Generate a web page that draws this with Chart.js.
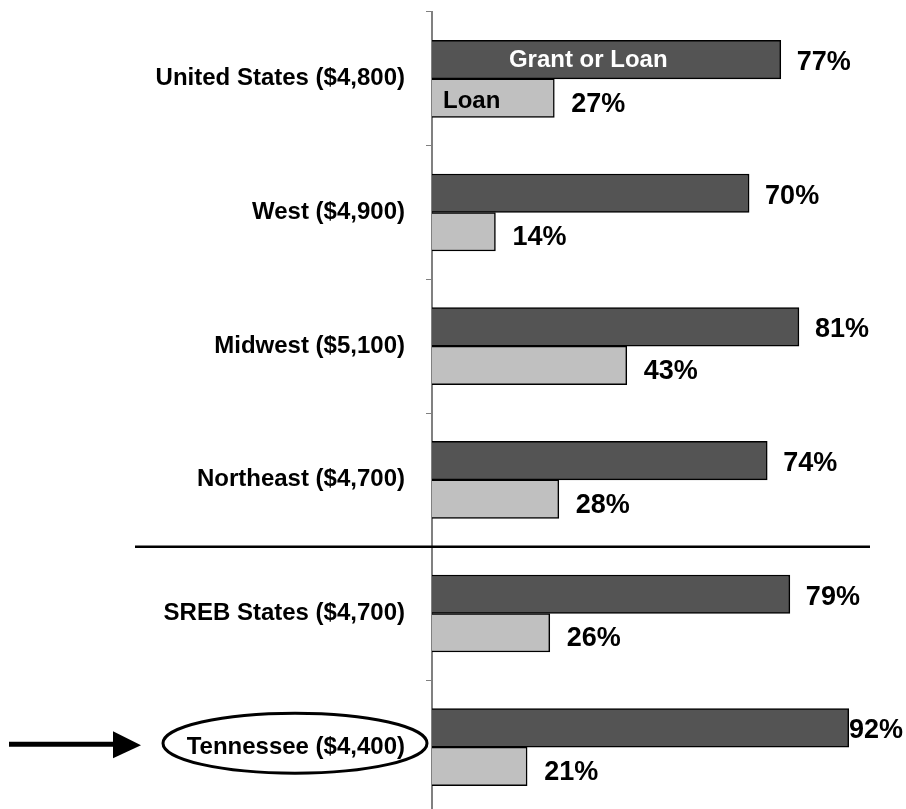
<!DOCTYPE html>
<html>
<head>
<meta charset="utf-8">
<script src="https://cdn.jsdelivr.net/npm/chart.js@4.4.1/dist/chart.umd.min.js"></script>
<style>
  html, body { margin: 0; padding: 0; background: #fff; overflow: hidden; }
  #wrap { width: 906px; height: 814px; }
</style>
</head>
<body>
<div id="wrap"><canvas id="aidChart" width="906" height="814"></canvas></div>
<script>
// Datos
const categories = ['United States ($4,800)', 'West ($4,900)', 'Midwest ($5,100)', 'Northeast ($4,700)', 'SREB States ($4,700)', 'Tennessee ($4,400)'];
const grantOrLoan = [77, 70, 81, 74, 79, 92];
const loanOnly = [27, 14, 43, 28, 26, 21];
const seriesNames = ['Grant or Loan', 'Loan'];

const FONT = "'Liberation Sans', Arial, sans-serif";
Chart.defaults.font.family = FONT;

// etiquetas de valores, nombres de serie, separador, flecha y elipse
const extrasPlugin = {
  id: 'extras',
  afterDatasetsDraw(chart) {
    const ctx = chart.ctx;
    const xs = chart.scales.x;
    const ys = chart.scales.y;
    const area = chart.chartArea;
    ctx.save();

    // valores al final de cada barra
    ctx.font = 'bold 27px ' + FONT;
    ctx.textBaseline = 'middle';
    ctx.textAlign = 'left';
    ctx.fillStyle = '#000';
    chart.data.datasets.forEach((ds, di) => {
      const meta = chart.getDatasetMeta(di);
      meta.data.forEach((bar, i) => {
        const txt = ds.data[i] + '%';
        const w = ctx.measureText(txt).width;
        let x = bar.x + (di === 0 ? 16 : 17);
        if (x + w > chart.width - 3) x = chart.width - 3 - w;
        ctx.fillText(txt, x, bar.y + (di === 0 ? 3 : 6));
      });
    });

    // nombres de serie dentro de las barras de United States
    const darkUS = chart.getDatasetMeta(0).data[0];
    const lightUS = chart.getDatasetMeta(1).data[0];
    ctx.font = 'bold 24px ' + FONT;
    ctx.fillStyle = '#fff';
    ctx.textAlign = 'center';
    ctx.fillText(seriesNames[0], xs.getPixelForValue(34.5), darkUS.y + 1);
    ctx.fillStyle = '#000';
    ctx.textAlign = 'left';
    ctx.fillText(seriesNames[1], area.left + 11, lightUS.y + 3);

    // separador entre regiones y estados SREB
    const sepY = (ys.getPixelForValue(3) + ys.getPixelForValue(4)) / 2;
    ctx.strokeStyle = '#000';
    ctx.lineWidth = 2.5;
    ctx.beginPath();
    ctx.moveTo(135, sepY);
    ctx.lineTo(870, sepY);
    ctx.stroke();

    // elipse alrededor de Tennessee
    const tnY = ys.getPixelForValue(5);
    ctx.lineWidth = 3;
    ctx.beginPath();
    ctx.ellipse(295, tnY - 4, 132, 30, 0, 0, Math.PI * 2);
    ctx.stroke();

    // flecha
    const ay = tnY - 3;
    ctx.lineWidth = 5;
    ctx.beginPath();
    ctx.moveTo(9, ay);
    ctx.lineTo(116, ay);
    ctx.stroke();
    ctx.fillStyle = '#000';
    ctx.beginPath();
    ctx.moveTo(113, ay - 13);
    ctx.lineTo(141, ay + 1);
    ctx.lineTo(113, ay + 14);
    ctx.closePath();
    ctx.fill();

    ctx.restore();
  }
};

const ctx = document.getElementById('aidChart').getContext('2d');
new Chart(ctx, {
  type: 'bar',
  data: {
    labels: categories,
    datasets: [{
      label: seriesNames[0],
      data: grantOrLoan,
      backgroundColor: '#545454',
      borderColor: '#000',
      borderWidth: 1.5,
      barThickness: 38.5
    }, {
      label: seriesNames[1],
      data: loanOnly,
      backgroundColor: '#c0c0c0',
      borderColor: '#000',
      borderWidth: 1.5,
      barThickness: 38.5
    }]
  },
  options: {
    indexAxis: 'y',
    responsive: false,
    animation: false,
    layout: { padding: { top: 12, right: 21, bottom: 0, left: 0 } },
    plugins: {
      legend: { display: false },
      tooltip: { enabled: false },
      title: { display: false }
    },
    scales: {
      x: { display: false, min: 0, max: 100 },
      y: {
        afterFit(scale) {
          scale.width = 432;
          scale.paddingTop = 0;
          scale.paddingBottom = 0;
        },
        grid: {
          display: true,
          drawOnChartArea: false,
          drawTicks: true,
          tickLength: 6,
          color: '#808080',
          offset: true
        },
        border: { display: true, color: '#808080', width: 2 },
        ticks: {
          color: '#000',
          padding: 21,
          font: { size: 24, weight: 'bold' }
        }
      }
    }
  },
  plugins: [extrasPlugin]
});
</script>
</body>
</html>
